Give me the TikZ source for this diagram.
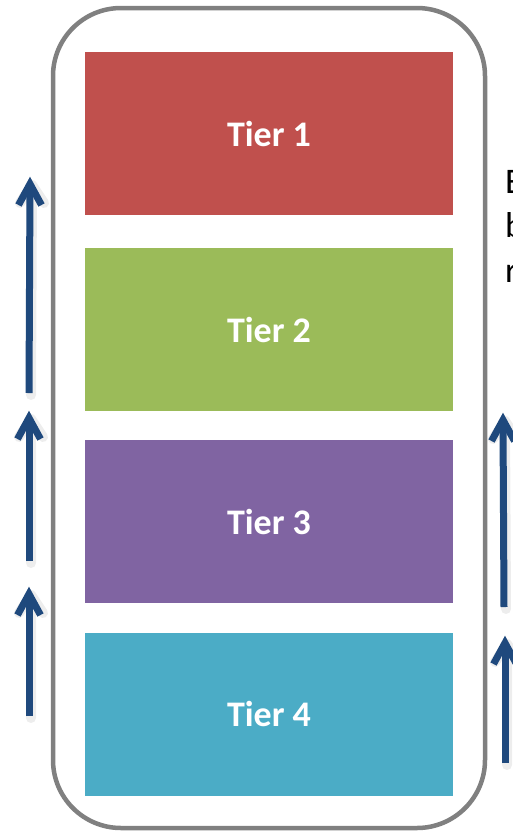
\documentclass[tikz,border=0pt]{standalone}
\usepackage{fontspec}
\setmainfont{Carlito}
\usetikzlibrary{calc}

\definecolor{tierred}{RGB}{192,80,77}
\definecolor{tiergreen}{RGB}{155,187,89}
\definecolor{tierpurple}{RGB}{128,100,162}
\definecolor{tierteal}{RGB}{75,172,198}
\definecolor{flowblue}{RGB}{31,73,125}
\definecolor{framegray}{RGB}{128,128,128}

\tikzset{
  tierbox/.style={fill=#1, draw=none, minimum width=368pt, minimum height=163pt,
    inner sep=0pt, text=white, font=\fontsize{36}{42}\selectfont\bfseries},
  flowline/.style={draw=flowblue, line width=7pt, line cap=butt, line join=miter},
  flowshadow/.style={draw=black, opacity=0.07, line width=10pt, line cap=round, line join=round},
  sidetext/.style={anchor=base west, inner sep=0pt,
    font=\fontsize{36}{44}\selectfont},
}

% upward arrow from #1 to the tip #2, with an open chevron head
\newcommand\upflow[2]{%
  \draw[flowshadow] ($(#1)+(2,2)$) -- ($(#2)+(2,9)$)
    ($(#2)+(-10,27)$) -- ($(#2)+(2,9)$) -- ($(#2)+(14,27)$);
  \draw[flowline] (#1) -- ($(#2)+(0,8)$);
  \draw[flowline] ($(#2)+(-11.5,29)$) -- ($(#2)+(0,8)$) -- ($(#2)+(11.5,29)$);
}

\begin{document}
\begin{tikzpicture}[x=1pt, y=-1pt]
  \useasboundingbox (0,0) rectangle (513,831);
  \clip (0,0) rectangle (513,831);
  \fill[white] (0,0) rectangle (513,831);

  % rounded outer frame
  \draw[framegray, line width=4.5pt, rounded corners=68pt] (53,8) rectangle (485,828);

  % the four tiers
  \node[tierbox=tierred]    (t1) at (269,133.5) {Tier 1};
  \node[tierbox=tiergreen]  (t2) at (269,329.5) {Tier 2};
  \node[tierbox=tierpurple] (t3) at (269,521.5) {Tier 3};
  \node[tierbox=tierteal]   (t4) at (269,714)   {Tier 4};

  % arrow end points, left column
  \coordinate (l1s) at (29,393); \coordinate (l1e) at (30,176);
  \coordinate (l2s) at (29,561); \coordinate (l2e) at (29,410);
  \coordinate (l3s) at (29,716); \coordinate (l3e) at (29,586);
  % arrow end points, right column
  \coordinate (r1s) at (504,607); \coordinate (r1e) at (503,412);
  \coordinate (r2s) at (505,763); \coordinate (r2e) at (505,635);

  % upward arrows
  \upflow{l1s}{l1e}
  \upflow{l2s}{l2e}
  \upflow{l3s}{l3e}
  \upflow{r1s}{r1e}
  \upflow{r2s}{r2e}

  % text running off the right edge
  \node[sidetext] (s1) at (505,193) {E};
  \node[sidetext] (s2) at (505,237) {b};
  \node[sidetext] (s3) at (505,282) {r};
\end{tikzpicture}
\end{document}
